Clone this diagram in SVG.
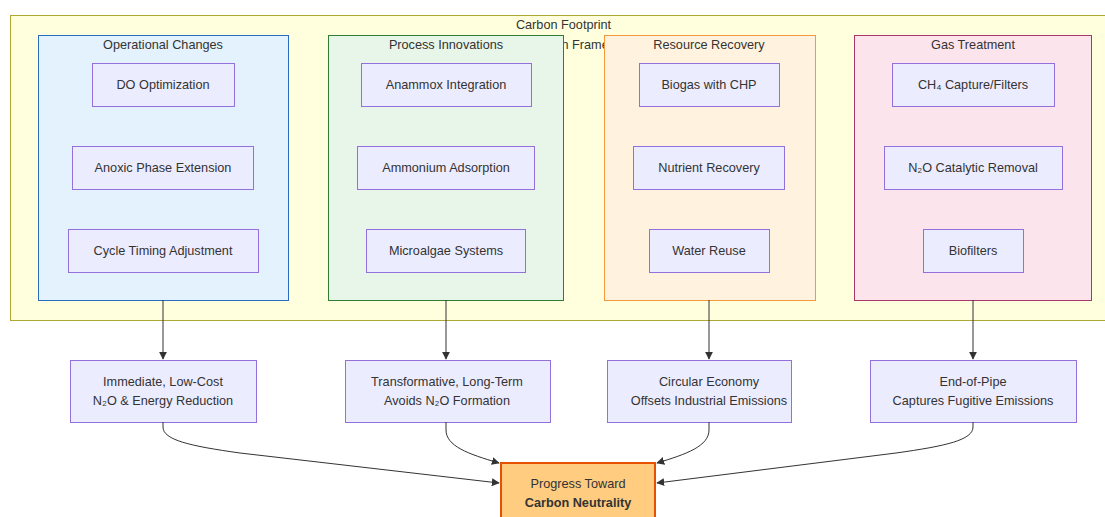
<svg xmlns="http://www.w3.org/2000/svg" width="1105" height="517" viewBox="0 0 1105 517">
  <defs>
    <marker id="arrow" viewBox="0 0 10 10" refX="9" refY="5" markerWidth="8" markerHeight="8" markerUnits="userSpaceOnUse" orient="auto">
      <path d="M0,0 L10,5 L0,10 z" fill="#333333"/>
    </marker>
    <style>
      text { font-family: "Liberation Sans", Arial, sans-serif; font-size: 12.7px; fill: #333333; text-anchor: middle; }
      .node rect { fill: #ECECFF; stroke: #9370DB; stroke-width: 1; }
      .edge { fill: none; stroke: #333333; stroke-width: 1; marker-end: url(#arrow); }
      .bold { font-weight: bold; }
    </style>
  </defs>

  <rect width="1105" height="517" fill="#ffffff"/>

  <!-- outer framework cluster -->
  <g id="framework">
    <rect x="10.5" y="15.5" width="1110" height="305" fill="#ffffde" stroke="#aaaa33" stroke-width="1"/>
    <text x="563.5" y="29">Carbon Footprint</text>
    <text x="573.5" y="49">Reduction Framework</text>
  </g>

  <!-- strategy clusters -->
  <g id="operational">
    <rect x="38.5" y="35.5" width="250" height="265" fill="#e3f2fd" stroke="#2a6cc0" stroke-width="1"/>
    <text x="163" y="49">Operational Changes</text>
  </g>
  <g id="process">
    <rect x="328.5" y="35.5" width="235" height="265" fill="#e8f5e9" stroke="#2e7d32" stroke-width="1"/>
    <text x="446" y="49">Process Innovations</text>
  </g>
  <g id="resource">
    <rect x="604.5" y="35.5" width="211" height="265" fill="#fff3e0" stroke="#f59a3c" stroke-width="1"/>
    <text x="709" y="49">Resource Recovery</text>
  </g>
  <g id="gas">
    <rect x="854.5" y="35.5" width="237" height="265" fill="#fce4ec" stroke="#a8386a" stroke-width="1"/>
    <text x="973" y="49">Gas Treatment</text>
  </g>

  <!-- measures -->
  <g id="do_opt" class="node"><rect x="92.5" y="63.5" width="142" height="43"/><text x="163" y="89">DO Optimization</text></g>
  <g id="anoxic" class="node"><rect x="72.5" y="146.5" width="181" height="43"/><text x="163" y="172">Anoxic Phase Extension</text></g>
  <g id="cycle" class="node"><rect x="68.5" y="229.5" width="190" height="43"/><text x="163" y="255">Cycle Timing Adjustment</text></g>

  <g id="anammox" class="node"><rect x="361.5" y="63.5" width="170" height="43"/><text x="446" y="89">Anammox Integration</text></g>
  <g id="ammonium" class="node"><rect x="357.5" y="146.5" width="177" height="43"/><text x="446" y="172">Ammonium Adsorption</text></g>
  <g id="microalgae" class="node"><rect x="366.5" y="229.5" width="159" height="43"/><text x="446" y="255">Microalgae Systems</text></g>

  <g id="biogas" class="node"><rect x="639.5" y="63.5" width="140" height="43"/><text x="709" y="89">Biogas with CHP</text></g>
  <g id="nutrient" class="node"><rect x="633.5" y="146.5" width="151" height="43"/><text x="709" y="172">Nutrient Recovery</text></g>
  <g id="water" class="node"><rect x="649.5" y="229.5" width="120" height="43"/><text x="709" y="255">Water Reuse</text></g>

  <g id="ch4" class="node"><rect x="892.5" y="63.5" width="162" height="43"/><text x="973" y="89">CH₄ Capture/Filters</text></g>
  <g id="n2o" class="node"><rect x="884.5" y="146.5" width="178" height="43"/><text x="973" y="172">N₂O Catalytic Removal</text></g>
  <g id="biofilters" class="node"><rect x="923.5" y="229.5" width="100" height="43"/><text x="973" y="255">Biofilters</text></g>

  <!-- outcomes -->
  <g id="immediate" class="node"><rect x="70.5" y="360.5" width="186" height="62"/><text x="163" y="386">Immediate, Low-Cost</text><text x="163" y="405">N₂O &amp; Energy Reduction</text></g>
  <g id="transformative" class="node"><rect x="345.5" y="360.5" width="205" height="62"/><text x="447" y="386">Transformative, Long-Term</text><text x="447" y="405">Avoids N₂O Formation</text></g>
  <g id="circular" class="node"><rect x="607.5" y="360.5" width="184" height="62"/><text x="709" y="386">Circular Economy</text><text x="709" y="405">Offsets Industrial Emissions</text></g>
  <g id="endofpipe" class="node"><rect x="870.5" y="360.5" width="206" height="62"/><text x="973" y="386">End-of-Pipe</text><text x="973" y="405">Captures Fugitive Emissions</text></g>

  <!-- goal -->
  <g id="neutrality">
    <rect x="501" y="463" width="154" height="62" fill="#ffcc80" stroke="#e65100" stroke-width="2"/>
    <text x="578" y="488">Progress Toward</text>
    <text x="578" y="507" class="bold">Carbon Neutrality</text>
  </g>

  <!-- connectors -->
  <g id="connectors">
    <path class="edge" d="M163,300 L163,359"/>
    <path class="edge" d="M446,300 L446,359"/>
    <path class="edge" d="M709,300 L709,359"/>
    <path class="edge" d="M973,300 L973,359"/>
    <path class="edge" d="M163,422 L163,427 C163,440 190,446 240,453 L499,483"/>
    <path class="edge" d="M446,422 L446,430 C446,446 468,454 499,463"/>
    <path class="edge" d="M709,422 L709,430 C709,446 687,454 657,463"/>
    <path class="edge" d="M973,422 L973,427 C973,440 946,446 896,453 L657,483"/>
  </g>
</svg>
